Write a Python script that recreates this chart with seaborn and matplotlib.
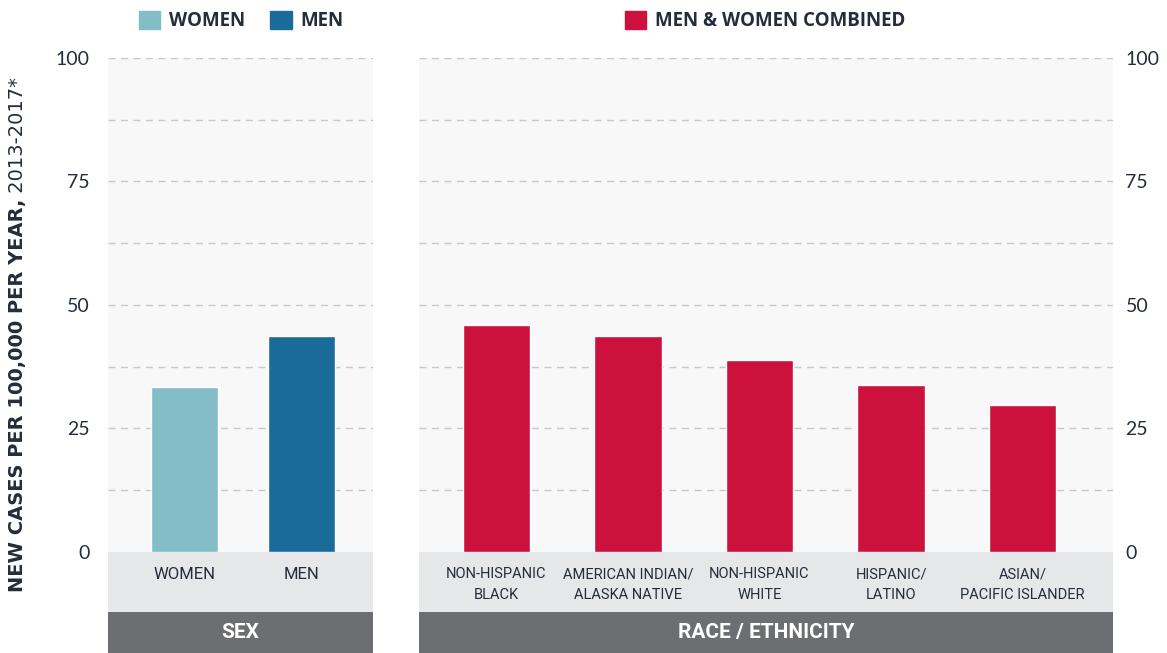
import seaborn as sns
import matplotlib.pyplot as plt
import pandas as pd
import numpy as np
from matplotlib.patches import Patch

sex_labels = ["WOMEN", "MEN"]
sex_values = [33.4, 43.7]
race_labels = ["NON-HISPANIC\nBLACK", "AMERICAN INDIAN/\nALASKA NATIVE", "NON-HISPANIC\nWHITE",
               "HISPANIC/\nLATINO", "ASIAN/\nPACIFIC ISLANDER"]
race_values = [45.9, 43.7, 38.9, 33.8, 29.8]
y_ticks = [0, 25, 50, 75, 100]

women_color = "#82bdc8"
men_color = "#1a6a9a"
combined_color = "#cc113c"
text_color = "#252d3b"

sns.set_theme(style="white")
plt.rcParams['font.family'] = ['Lato', 'DejaVu Sans']
narrow = ['Roboto', 'DejaVu Sans']
heavy = ['Open Sans', 'DejaVu Sans']

W, H = 1167, 653
fig = plt.figure(figsize=(W / 100, H / 100), dpi=100)

ymin = -20.45
light_bottom = -12.15


def px_axes(x0, x1):
    return fig.add_axes([x0 / W, 0, (x1 - x0) / W, (H - 58) / H])


def style_panel(ax, band_label, side):
    ax.set_facecolor("#f8f8f8")
    ax.set_ylim(ymin, 100)
    for s in ax.spines.values():
        s.set_visible(False)
    for g in np.arange(12.5, 100.1, 12.5):
        ax.axhline(g, color="#c8c8c8", lw=1, ls=(0, (5, 4)), zorder=0)
    ax.axhspan(light_bottom, 0, color="#e6e7e9", zorder=3, lw=0)
    ax.axhspan(ymin, light_bottom, color="#6d6e71", zorder=3, lw=0)
    ax.text(0.5, (ymin + light_bottom) / 2, band_label, transform=ax.get_yaxis_transform(),
            ha="center", va="center", color="white", fontsize=15, fontweight="semibold",
            family=narrow, zorder=4)
    ax.set_xticks([])
    ax.set_xlabel("")
    ax.set_ylabel("")
    ax.set_yticks(y_ticks)
    ax.set_yticklabels([str(t) for t in y_ticks], fontsize=14, color=text_color)
    if side == "right":
        ax.yaxis.tick_right()
        ax.tick_params(axis="y", length=0, pad=9)
    else:
        ax.tick_params(axis="y", length=0, pad=13)


# left panel: sex
ax1 = px_axes(108, 373)
df_sex = pd.DataFrame({"group": sex_labels, "rate": sex_values})
sns.barplot(data=df_sex, x="group", y="rate", hue="group", palette=[women_color, men_color],
            width=0.573, ax=ax1, legend=False, saturation=1, zorder=2)
ax1.set_xlim(-0.654, 1.611)
style_panel(ax1, "SEX", "left")
for i, lab in enumerate(sex_labels):
    ax1.text(i, -3.1, lab, ha="center", va="top", fontsize=12, color=text_color,
             family=narrow, zorder=4)

# right panel: race / ethnicity
ax2 = px_axes(419, 1113)
df_race = pd.DataFrame({"group": race_labels, "rate": race_values})
sns.barplot(data=df_race, x="group", y="rate", color=combined_color,
            width=0.51, ax=ax2, saturation=1, zorder=2)
ax2.set_xlim(-0.589, 4.688)
style_panel(ax2, "RACE / ETHNICITY", "right")
for i, lab in enumerate(race_labels):
    ax2.text(i, -3.1, lab, ha="center", va="top", fontsize=10.5, color=text_color,
             family=narrow, linespacing=1.6, zorder=4)

# legends
leg_kw = dict(loc="center", frameon=False, handlelength=1.15, handleheight=1.15,
              handletextpad=0.45, columnspacing=1.35, borderaxespad=0)
leg_font = {"size": 13.5, "weight": "bold", "family": heavy}
leg1 = fig.legend([Patch(color=women_color), Patch(color=men_color)], sex_labels,
                  bbox_to_anchor=(241 / W, 1 - 21 / H), ncol=2, prop=leg_font, **leg_kw)
leg2 = fig.legend([Patch(color=combined_color)], ["MEN & WOMEN COMBINED"],
                  bbox_to_anchor=(765 / W, 1 - 21 / H), ncol=1, prop=leg_font, **leg_kw)
for leg in (leg1, leg2):
    for t in leg.get_texts():
        t.set_color(text_color)

# y axis title: bold part + regular part
t1 = fig.text(18 / W, 1 - 592 / H, "NEW CASES PER 100,000 PER YEAR,", rotation=90,
              ha="center", va="bottom", fontsize=14, fontweight="bold", family="DejaVu Sans",
              color=text_color)
fig.canvas.draw()
ax1.annotate(" 2013-2017*", xy=(0.5, 1), xycoords=t1, rotation=90, ha="center", va="bottom",
             fontsize=14, family="DejaVu Sans", color=text_color, annotation_clip=False)

fig.savefig("out.png", dpi=100)
